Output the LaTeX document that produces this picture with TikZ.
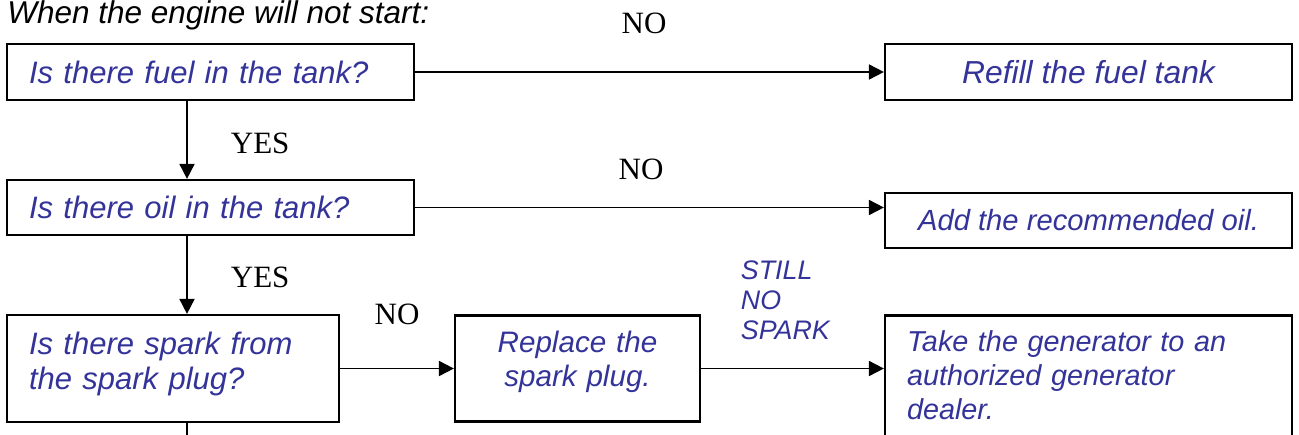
\documentclass[tikz,border=0pt]{standalone}
\usepackage{fontspec}
\setmainfont{Liberation Serif}
\setsansfont{Liberation Sans}
\usepackage{xcolor}
\usepackage{tikz}
\usetikzlibrary{positioning, arrows.meta}
\definecolor{ctext}{HTML}{333399}
\tikzset{
  blk/.style={draw, line width=1.1pt, text=ctext, inner xsep=11pt, inner ysep=4pt,
              font=\sffamily\itshape\fontsize{15.9}{17.5}\selectfont, minimum width=203.5pt},
  fs/.style 2 args={font=\sffamily\itshape\fontsize{#1}{#2}\selectfont},
  lft/.style={align=left, text width=#1},
  ctr/.style={align=center},
  ttl/.style={font=\sffamily\itshape\fontsize{15.75}{18}\selectfont, inner sep=0pt},
  lbl/.style={font=\fontsize{15.5}{18}\selectfont, inner sep=0pt},
  still/.style={font=\sffamily\itshape\fontsize{13.4}{15}\selectfont, text=ctext, align=left, inner sep=0pt},
  fl/.style={-{Triangle[length=7.5pt, width=7.5pt]}, line width=0.9pt},
}
\begin{document}
\begin{tikzpicture}
  \clip (0,0) rectangle (649.5pt,-217pt);
  \node[blk, fs={15.5}{17.5}, lft=181.5pt, minimum height=28pt, anchor=north west] (fuel) at (2.95pt,-21.45pt) {Is there fuel in the tank?};
  \node[blk, ctr, minimum height=28pt, right=234.4pt of fuel] (refill) {Refill the fuel tank};
  \node[blk, fs={15.5}{17.5}, lft=181.5pt, minimum height=27.5pt, below=38.9pt of fuel] (oil) {Is there oil in the tank?};
  \node[blk, fs={14.6}{17}, ctr, minimum height=27.5pt, below=45.4pt of refill] (addoil) {Add the recommended oil.};
  \node[blk, fs={15.5}{17.5}, lft=144pt, minimum width=166pt, minimum height=53.5pt, text depth=24.8pt,
        below right=38.9pt and 0pt of oil.south west] (spark) {Is there spark from\\the spark plug?};
  \node[blk, fs={14.8}{17}, align=center, text width=100.5pt, minimum width=122.5pt, minimum height=53pt, text depth=26.8pt,
        right=56.9pt of spark] (plug) {Replace the\\spark plug.};
  \node[blk, fs={14.4}{17}, lft=181.5pt, inner ysep=7.5pt, text depth=50pt,
        below right=0pt and 91.4pt of plug.north east] (dealer) {Take the generator to an\\authorized generator\\dealer.};
  \node[ttl, anchor=base west] (title) at ([xshift=0.5pt, yshift=9.5pt]fuel.north west) {When the engine will not start:};
  \coordinate (spine) at (93.5pt,0);
  \coordinate (cont) at (93.5pt,-230pt);
  \draw[fl] (fuel.east) -- node[lbl, above=18.5pt, xshift=-2.75pt]{NO} (refill.west);
  \draw[fl] (fuel.south -| spine) -- node[lbl, right=21.5pt, yshift=-1.5pt]{YES} (oil.north -| spine);
  \draw[fl] (oil.east) -- node[lbl, above=13.5pt, xshift=-4.25pt]{NO} (oil.east -| addoil.west);
  \draw[fl] (oil.south -| spine) -- node[lbl, right=21.5pt, yshift=-1.25pt]{YES} (spark.north -| spine);
  \draw[fl] (spark.east) -- node[lbl, above=21.3pt]{NO} (spark.east -| plug.west);
  \draw[fl] (plug.east) -- node[still, above right=13.8pt and -26.25pt]{STILL\\NO\\SPARK} (plug.east -| dealer.west);
  \draw[line width=0.9pt] (spark.south -| spine) -- (cont);
\end{tikzpicture}
\end{document}
